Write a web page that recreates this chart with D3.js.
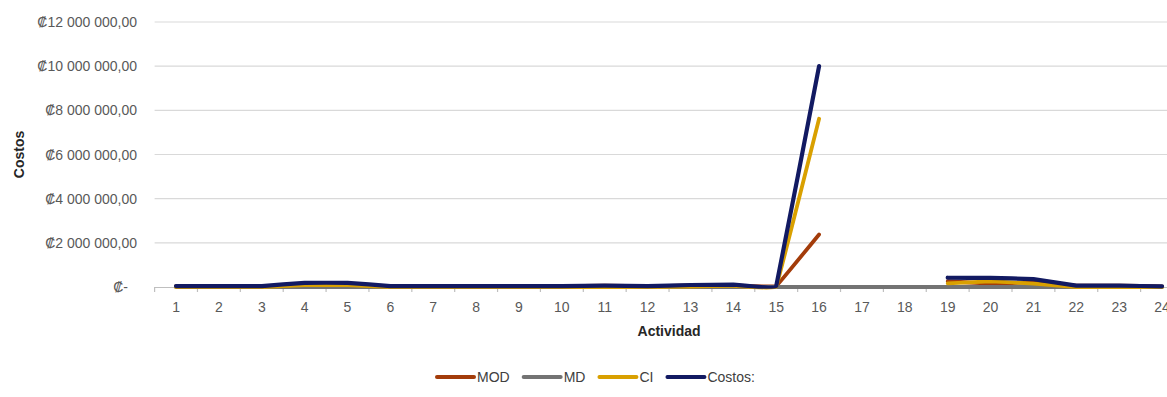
<!DOCTYPE html>
<html>
<head>
<meta charset="utf-8">
<script src="https://cdn.jsdelivr.net/npm/d3@7"></script>
<style>
  html, body { margin: 0; padding: 0; background: #fff; }
  svg { display: block; font-family: "Liberation Sans", Arial, sans-serif; }
</style>
</head>
<body>
<svg id="chart" width="1167" height="397"></svg>
<script>
// Activities 1..24 and cost series (colones); null = no value recorded
const activities = d3.range(1, 25);
const mod    = [40000, 40000, 40000, 100000, 100000, 40000, 40000, 40000, 40000, 40000, 60000, 40000, 70000, 60000, 40000, 2380000, null, null, 260000, 150000, 210000, 60000, 60000, 30000];
const md     = [0, 0, 0, 0, 0, 0, 0, 0, 0, 0, 0, 0, 0, 0, 0, 0, 0, 0, 0, 0, 0, 0, 0, 0];
const ci     = [0, 0, 0, 90000, 90000, 0, 0, 0, 0, 0, 0, 0, 20000, 50000, 0, 7620000, null, null, 160000, 260000, 150000, 0, 0, 0];
const costos = [40000, 40000, 40000, 190000, 190000, 40000, 40000, 40000, 40000, 40000, 60000, 40000, 90000, 110000, 40000, 10000000, null, null, 420000, 410000, 360000, 60000, 60000, 30000];

const seriesNames  = ["MOD", "MD", "CI", "Costos:"];
const seriesColors = ["#A33C0A", "#737373", "#D9A000", "#121A62"];
const seriesValues = [mod, md, ci, costos];

const yTicks      = [0, 2000000, 4000000, 6000000, 8000000, 10000000, 12000000];
const yTickLabels = ["₡-", "₡2 000 000,00", "₡4 000 000,00", "₡6 000 000,00", "₡8 000 000,00", "₡10 000 000,00", "₡12 000 000,00"];

const xTitle = "Actividad";
const yTitle = "Costos";

const svg = d3.select("#chart");
const W = 1167;
const plot = { left: 154.6, top: 22, bottom: 287 };
const bandW = 42.87;

const x = d3.scaleBand()
  .domain(activities)
  .range([plot.left, plot.left + bandW * activities.length])
  .paddingInner(0).paddingOuter(0);
const cx = d => x(d) + x.bandwidth() / 2;

const y = d3.scaleLinear().domain([0, 12000000]).range([plot.bottom, plot.top]);

// Horizontal gridlines
svg.append("g").selectAll("line")
  .data(yTicks.filter(t => t > 0))
  .join("line")
  .attr("x1", plot.left).attr("x2", W)
  .attr("y1", d => y(d)).attr("y2", d => y(d))
  .attr("stroke", "#D9D9D9").attr("stroke-width", 1.2);

// Y tick labels
svg.append("g").selectAll("text")
  .data(yTicks)
  .join("text")
  .attr("x", (d, i) => i === 0 ? 128 : 137)
  .attr("y", d => y(d) + 5)
  .attr("text-anchor", "end")
  .attr("font-size", 14)
  .attr("fill", "#595959")
  .text((d, i) => yTickLabels[i]);

// Category axis line and tick marks between categories
const xAxis = svg.append("g");
xAxis.append("line")
  .attr("x1", plot.left).attr("x2", W)
  .attr("y1", plot.bottom + 0.5).attr("y2", plot.bottom + 0.5)
  .attr("stroke", "#BFBFBF").attr("stroke-width", 1.2);
xAxis.selectAll("line.tick")
  .data(activities)
  .join("line")
  .attr("class", "tick")
  .attr("x1", d => x(d)).attr("x2", d => x(d))
  .attr("y1", plot.bottom).attr("y2", plot.bottom + 5)
  .attr("stroke", "#BFBFBF").attr("stroke-width", 1.2);
xAxis.selectAll("text")
  .data(activities)
  .join("text")
  .attr("x", d => cx(d))
  .attr("y", 312)
  .attr("text-anchor", "middle")
  .attr("font-size", 14)
  .attr("fill", "#595959")
  .text(d => d);

// Axis titles
svg.append("text")
  .attr("x", x.range()[0] + (x.range()[1] - x.range()[0]) / 2)
  .attr("y", 336)
  .attr("text-anchor", "middle")
  .attr("font-size", 14)
  .attr("font-weight", "bold")
  .attr("fill", "#262626")
  .text(xTitle);

svg.append("text")
  .attr("transform", `translate(24, ${(plot.top + plot.bottom) / 2}) rotate(-90)`)
  .attr("text-anchor", "middle")
  .attr("font-size", 14)
  .attr("font-weight", "bold")
  .attr("fill", "#262626")
  .text(yTitle);

// Smoothed series lines, broken where values are missing
const line = d3.line()
  .defined(d => d.v !== null)
  .x(d => cx(d.a))
  .y(d => y(d.v))
  .curve(d3.curveCardinal.tension(0.92));

const linesG = svg.append("g");
seriesValues.forEach((vals, i) => {
  const pts = activities.map((a, j) => ({ a, v: vals[j] }));
  linesG.append("path")
    .datum(pts)
    .attr("d", line)
    .attr("fill", "none")
    .attr("stroke", seriesColors[i])
    .attr("stroke-width", i === 3 ? 4.2 : 3.8)
    .attr("stroke-linecap", "round")
    .attr("stroke-linejoin", "round");
});

// Legend
const legend = svg.append("g");
let lx = 437;
const ly = 377;
seriesNames.forEach((name, i) => {
  legend.append("line")
    .attr("x1", lx).attr("x2", lx + 37)
    .attr("y1", ly).attr("y2", ly)
    .attr("stroke", seriesColors[i])
    .attr("stroke-width", 4)
    .attr("stroke-linecap", "round");
  const t = legend.append("text")
    .attr("x", lx + 40)
    .attr("y", ly + 5)
    .attr("font-size", 14)
    .attr("fill", "#404040")
    .text(name);
  lx += 40 + t.node().getComputedTextLength() + 14;
});
</script>
</body>
</html>
